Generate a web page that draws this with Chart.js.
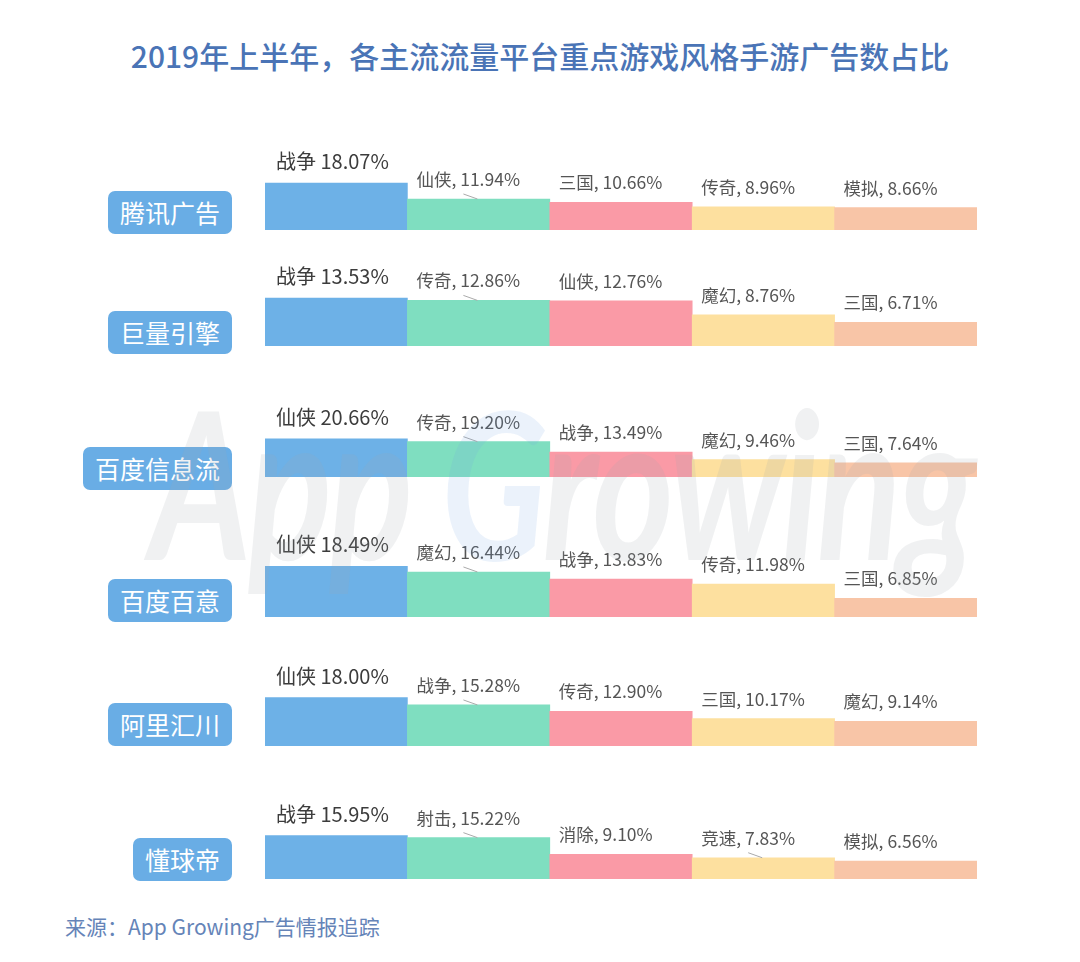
<!DOCTYPE html>
<html>
<head>
<meta charset="utf-8">
<script src="https://cdn.jsdelivr.net/npm/chart.js@4.4.0/dist/chart.umd.min.js"></script>
<style>
  body { margin: 0; background: #fff; }
  #page { position: relative; width: 1080px; height: 962px; overflow: hidden; font-family: "Noto Sans CJK SC", sans-serif; }
  #title { position: absolute; top: 33px; left: 0; width: 1080px; text-align: center; font-size: 30px; color: #4a74b6; font-weight: 500; }
  .row { position: absolute; left: 265px; width: 712px; height: 100px; }
  .tag { position: absolute; right: 848px; height: 43px; line-height: 43px; padding: 0 12px; background: #69ade5; color: #fff; font-size: 25px; border-radius: 7px; }
  #source { position: absolute; left: 65px; top: 911px; font-size: 21px; color: #6584b8; }
  #wm { position: absolute; left: 150px; top: 358px; font-family: Lato, sans-serif; font-weight: bold; font-style: italic; font-size: 205px; letter-spacing: -4px; color: rgba(160,165,175,0.16); pointer-events: none; white-space: nowrap; transform: scaleX(0.76); transform-origin: left top; }
  #wm span { color: rgba(110,165,230,0.14); }
</style>
</head>
<body>
<div id="page">
  <div id="title">2019年上半年，各主流流量平台重点游戏风格手游广告数占比</div>
  <div id="source">来源：App Growing广告情报追踪</div>
</div>
<script>
// 平台与各平台前五的游戏风格
const platforms = ['腾讯广告', '巨量引擎', '百度信息流', '百度百意', '阿里汇川', '懂球帝'];
const genres = [
  ['战争', '仙侠', '三国', '传奇', '模拟'],
  ['战争', '传奇', '仙侠', '魔幻', '三国'],
  ['仙侠', '传奇', '战争', '魔幻', '三国'],
  ['仙侠', '魔幻', '战争', '传奇', '三国'],
  ['仙侠', '战争', '传奇', '三国', '魔幻'],
  ['战争', '射击', '消除', '竞速', '模拟']
];
// 广告数占比 (%)
const shares = [
  [18.07, 11.94, 10.66, 8.96, 8.66],
  [13.53, 12.86, 12.76, 8.76, 6.71],
  [20.66, 19.20, 13.49, 9.46, 7.64],
  [18.49, 16.44, 13.83, 11.98, 6.85],
  [18.00, 15.28, 12.90, 10.17, 9.14],
  [15.95, 15.22, 9.10, 7.83, 6.56]
];
const barColors = ['#6db1e7', '#7fdec0', '#fa9aa6', '#fde09f', '#f8c5a7'];

// mise en page de chaque rangée
const rowBase = [230, 346, 477, 617, 746, 879];
const rowMax = [38.5, 28.2, 54.3, 36.5, 37.2, 36.8];
const tagTop = [191, 311, 447, 579, 703, 838];
const leaders = [[0, 1], [1, 1], [2, 1], [3, 1], [4, 1], [5, 1], [5, 3]];

const page = document.getElementById('page');

// plugin pour écrire le libellé au-dessus de chaque barre
const barLabels = {
  id: 'barLabels',
  afterDatasetsDraw(chart, args, opts) {
    const ctx = chart.ctx;
    const r = opts.row;
    const meta = chart.getDatasetMeta(0);
    ctx.save();
    meta.data.forEach((bar, i) => {
      const left = bar.x - bar.width / 2;
      const val = shares[r][i].toFixed(2) + '%';
      let base;
      if (i === 0) {
        ctx.font = '20px "Noto Sans CJK SC"';
        ctx.fillStyle = '#3c3c3c';
        base = bar.y - 14;
        ctx.fillText(genres[r][i] + ' ' + val, left + 11, base);
      } else {
        ctx.font = '17.5px "Noto Sans CJK SC"';
        ctx.fillStyle = '#555';
        base = bar.y - 13;
        ctx.fillText(genres[r][i] + ', ' + val, left + 9, base);
      }
      if (leaders.some(l => l[0] === r && l[1] === i)) {
        ctx.strokeStyle = '#aaa';
        ctx.lineWidth = 1;
        ctx.beginPath();
        ctx.moveTo(left + 56, base + 8);
        ctx.lineTo(left + 70, bar.y);
        ctx.stroke();
      }
    });
    ctx.restore();
  }
};

platforms.forEach((name, r) => {
  const tag = document.createElement('div');
  tag.className = 'tag';
  tag.style.top = tagTop[r] + 'px';
  tag.textContent = name;
  page.appendChild(tag);

  const box = document.createElement('div');
  box.className = 'row';
  box.style.top = (rowBase[r] - 100) + 'px';
  const cv = document.createElement('canvas');
  box.appendChild(cv);
  page.appendChild(box);

  new Chart(cv, {
    type: 'bar',
    data: {
      labels: genres[r],
      datasets: [{
        data: shares[r],
        backgroundColor: barColors,
        borderWidth: 0,
        categoryPercentage: 1,
        barPercentage: 1
      }]
    },
    options: {
      responsive: true,
      maintainAspectRatio: false,
      animation: false,
      layout: { padding: 0 },
      scales: {
        x: { display: false },
        y: { display: false, min: 0, max: rowMax[r] }
      },
      plugins: {
        legend: { display: false },
        tooltip: { enabled: false },
        barLabels: { row: r }
      }
    },
    plugins: [barLabels]
  });
});

// filigrane
const wm = document.createElement('div');
wm.id = 'wm';
wm.innerHTML = 'App <span>G</span>rowing';
page.appendChild(wm);
</script>
</body>
</html>
